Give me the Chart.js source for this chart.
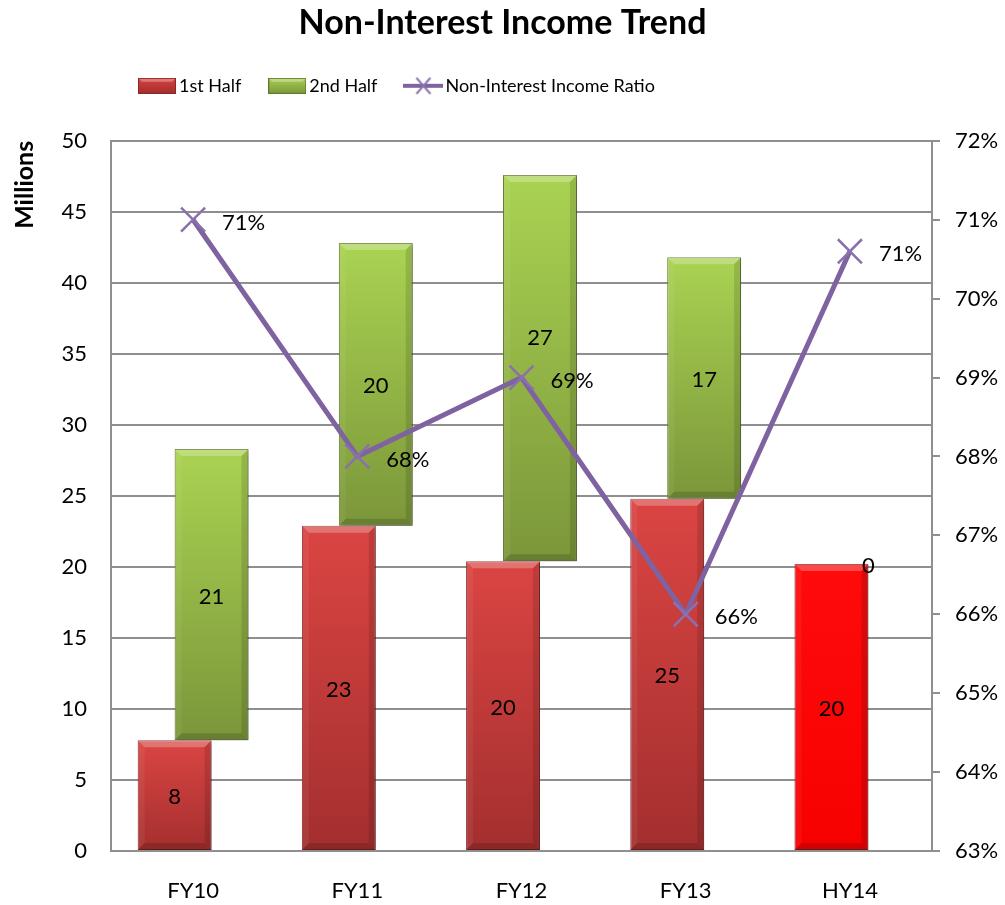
<!DOCTYPE html>
<html>
<head>
<meta charset="utf-8">
<title>Non-Interest Income Trend</title>
<script src="https://cdn.jsdelivr.net/npm/chart.js@4.4.1/dist/chart.umd.min.js"></script>
<style>
    html, body { margin: 0; padding: 0; background: #fff; }
    #wrap { width: 1005px; height: 905px; position: relative; }
</style>
</head>
<body>
<div id="wrap"><canvas id="income-chart"></canvas></div>
<script>
// income in millions, per half year
var periods = ['FY10', 'FY11', 'FY12', 'FY13', 'HY14'];
var firstHalf = [7.8, 22.9, 20.4, 24.8, 20.2];
var secondHalf = [20.5, 19.9, 27.2, 17.0, 0];
// non-interest income / total income, in percent
var incomeRatio = [71.0, 68.0, 69.0, 66.0, 70.6];
var amountTicks = [0, 5, 10, 15, 20, 25, 30, 35, 40, 45, 50];
var ratioTicks = [63, 64, 65, 66, 67, 68, 69, 70, 71, 72];

var FONT = 'Lato, "Open Sans", sans-serif';
var GRID = '#8f8f8f';
var PURPLE = '#7f63a1';

// each half is drawn as a floating bar: 1st half from zero, 2nd half on top of it
var firstBars = firstHalf.map(function (v) { return [0, v]; });
var secondBars = secondHalf.map(function (v, i) { return [firstHalf[i], firstHalf[i] + v]; });

function barFill(top, bottom, lastTop, lastBottom) {
    return function (c) {
        var chart = c.chart;
        var y = chart.scales.y;
        var raw = c.raw;
        var last = lastTop && c.dataIndex === periods.length - 1;
        var t = last ? lastTop : top, b = last ? lastBottom : bottom;
        if (!y || !raw || !chart.chartArea) return b;
        var y0 = y.getPixelForValue(raw[1]);
        var y1 = y.getPixelForValue(raw[0]);
        if (!isFinite(y0) || !isFinite(y1) || Math.abs(y1 - y0) < 1) return t;
        var g = chart.ctx.createLinearGradient(0, y0, 0, y1);
        g.addColorStop(0, t);
        g.addColorStop(1, b);
        return g;
    };
}

function boxIcon(top, bottom, edge) {
    var c = document.createElement('canvas');
    c.width = 38; c.height = 16;
    var g = c.getContext('2d');
    var gr = g.createLinearGradient(0, 0, 0, 16);
    gr.addColorStop(0, top);
    gr.addColorStop(1, bottom);
    g.fillStyle = gr;
    g.fillRect(0, 0, 38, 16);
    g.fillStyle = 'rgba(255,255,255,0.3)';
    g.beginPath(); g.moveTo(0, 0); g.lineTo(38, 0); g.lineTo(34, 4); g.lineTo(4, 4); g.closePath(); g.fill();
    g.strokeStyle = edge;
    g.lineWidth = 1;
    g.strokeRect(0.5, 0.5, 37, 15);
    return c;
}

function lineIcon() {
    var c = document.createElement('canvas');
    c.width = 40; c.height = 20;
    var g = c.getContext('2d');
    g.strokeStyle = PURPLE;
    g.lineWidth = 4;
    g.beginPath(); g.moveTo(0, 10); g.lineTo(40, 10); g.stroke();
    g.strokeStyle = '#8c74b0';
    g.lineWidth = 2;
    g.beginPath();
    g.moveTo(13, 2); g.lineTo(27, 18);
    g.moveTo(27, 2); g.lineTo(13, 18);
    g.stroke();
    return c;
}

var legendIcons = [
    boxIcon('#d84341', '#a12e2d', '#8a2826'),
    boxIcon('#a9d152', '#7b963a', '#5f7a2a'),
    lineIcon()
];

// drop shadow and bevelled edges for the columns
var barLook = {
    id: 'barLook',
    beforeDatasetDraw: function (chart, args) {
        if (args.meta.type !== 'bar') return;
        var ctx = chart.ctx;
        ctx.save();
        ctx.shadowColor = 'rgba(0,0,0,0.3)';
        ctx.shadowBlur = 5;
        ctx.shadowOffsetX = 2;
        ctx.shadowOffsetY = 2;
    },
    afterDatasetDraw: function (chart, args) {
        if (args.meta.type !== 'bar') return;
        var ctx = chart.ctx;
        ctx.restore();
        function poly(pts, color) {
            ctx.fillStyle = color;
            ctx.beginPath();
            ctx.moveTo(pts[0][0], pts[0][1]);
            for (var k = 1; k < pts.length; k++) ctx.lineTo(pts[k][0], pts[k][1]);
            ctx.closePath();
            ctx.fill();
        }
        ctx.save();
        args.meta.data.forEach(function (el) {
            var half = el.width / 2, l = el.x - half, r = el.x + half;
            var t = Math.min(el.y, el.base), b = Math.max(el.y, el.base);
            var h = b - t;
            if (h < 4) return;
            var d = Math.min(7, h / 3);
            poly([[l, t], [r, t], [r - d, t + d], [l + d, t + d]], 'rgba(255,255,255,0.25)');
            poly([[l, b], [r, b], [r - d, b - d], [l + d, b - d]], 'rgba(0,0,0,0.15)');
            poly([[l, t], [l + d, t + d], [l + d, b - d], [l, b]], 'rgba(255,255,255,0.06)');
            poly([[r, t], [r - d, t + d], [r - d, b - d], [r, b]], 'rgba(0,0,0,0.12)');
        });
        ctx.restore();
    }
};

// value labels: half-year amounts inside the columns, ratio next to each point
var valueLabels = {
    id: 'valueLabels',
    afterDatasetsDraw: function (chart) {
        var ctx = chart.ctx;
        ctx.save();
        ctx.font = '22px ' + FONT;
        ctx.fillStyle = '#000';
        ctx.textBaseline = 'middle';
        chart.data.datasets.forEach(function (ds, i) {
            var meta = chart.getDatasetMeta(i);
            meta.data.forEach(function (el, j) {
                if (ds.type === 'line') {
                    ctx.textAlign = 'left';
                    ctx.fillText(Math.round(ds.data[j]) + '%', el.x + 29, el.y + 3);
                } else {
                    var raw = ds.data[j];
                    var nudge = (i === 1 && j === 2) ? -30 : 2;
                    ctx.textAlign = 'center';
                    ctx.fillText(Math.round(raw[1] - raw[0]), el.x, (el.y + el.base) / 2 + nudge);
                }
            });
        });
        ctx.restore();
    }
};

var ctx = document.getElementById('income-chart');
var incomeChart = new Chart(ctx, {
    type: 'bar',
    data: {
        labels: periods,
        datasets: [{
            label: '1st Half',
            data: firstBars,
            backgroundColor: barFill('#db4543', '#a32f2e', '#ff0b0b', '#f70000'),
            borderColor: '#8a2826',
            borderWidth: 1,
            borderSkipped: false,
            categoryPercentage: 0.45,
            barPercentage: 2,
            order: 1
        }, {
            label: '2nd Half',
            data: secondBars,
            backgroundColor: barFill('#aad352', '#7b963a'),
            borderColor: '#5f7a2a',
            borderWidth: 1,
            borderSkipped: false,
            categoryPercentage: 0.45,
            barPercentage: 2,
            order: 1
        }, {
            type: 'line',
            label: 'Non-Interest Income Ratio',
            data: incomeRatio,
            yAxisID: 'y1',
            borderColor: PURPLE,
            borderWidth: 5,
            borderJoinStyle: 'round',
            pointStyle: 'crossRot',
            pointRadius: 17,
            pointBorderWidth: 2.5,
            pointBorderColor: '#8a71ae',
            pointBackgroundColor: 'transparent',
            tension: 0,
            order: 0
        }]
    },
    options: {
        responsive: true,
        maintainAspectRatio: false,
        animation: false,
        layout: { padding: 0 },
        plugins: {
            title: {
                display: true,
                text: 'Non-Interest Income Trend',
                color: '#000',
                font: { family: FONT, size: 34, weight: 'bold' },
                padding: { top: 3, bottom: 0 }
            },
            // blank spacer between the legend and the plot
            subtitle: {
                display: true,
                text: '',
                fullSize: false,
                weight: 500,
                font: { size: 10, lineHeight: 1 },
                padding: { top: 26, bottom: 0 }
            },
            legend: {
                position: 'top',
                align: 'start',
                fullSize: false,
                labels: {
                    usePointStyle: true,
                    pointStyleWidth: 26,
                    padding: 33,
                    color: '#000',
                    font: { family: FONT, size: 18 },
                    generateLabels: function (chart) {
                        return chart.data.datasets.map(function (ds, i) {
                            return {
                                text: ds.label,
                                pointStyle: legendIcons[i],
                                fillStyle: 'transparent',
                                strokeStyle: 'transparent',
                                lineWidth: 0,
                                fontColor: '#000',
                                hidden: !chart.isDatasetVisible(i),
                                datasetIndex: i
                            };
                        });
                    }
                }
            },
            tooltip: { enabled: false }
        },
        scales: {
            x: {
                grid: { display: false, drawTicks: false },
                border: { display: true, color: GRID, width: 2 },
                ticks: {
                    color: '#000',
                    padding: 27,
                    maxRotation: 0,
                    minRotation: 0,
                    autoSkip: false,
                    font: { family: FONT, size: 22 }
                },
                afterFit: function (s) { s.height = 54; }
            },
            y: {
                position: 'left',
                min: amountTicks[0],
                max: amountTicks[amountTicks.length - 1],
                ticks: {
                    stepSize: amountTicks[1] - amountTicks[0],
                    color: '#000',
                    padding: 24,
                    font: { family: FONT, size: 22 }
                },
                grid: { color: GRID, lineWidth: 2, drawTicks: false },
                border: { display: true, color: GRID, width: 2 },
                title: {
                    display: true,
                    text: 'Millions',
                    align: 'end',
                    color: '#000',
                    font: { family: FONT, size: 25, weight: 'bold' },
                    padding: { top: 10, bottom: 0 }
                },
                afterFit: function (s) { s.width = 111; }
            },
            y1: {
                position: 'right',
                min: ratioTicks[0],
                max: ratioTicks[ratioTicks.length - 1],
                ticks: {
                    stepSize: ratioTicks[1] - ratioTicks[0],
                    color: '#000',
                    padding: 15,
                    font: { family: FONT, size: 22 },
                    callback: function (v) { return v + '%'; }
                },
                grid: { drawOnChartArea: false, drawTicks: true, tickLength: 8, color: GRID, lineWidth: 2 },
                border: { display: true, color: GRID, width: 2 },
                afterFit: function (s) { s.width = 73; }
            }
        }
    },
    plugins: [barLook, valueLabels]
});
</script>
</body>
</html>
